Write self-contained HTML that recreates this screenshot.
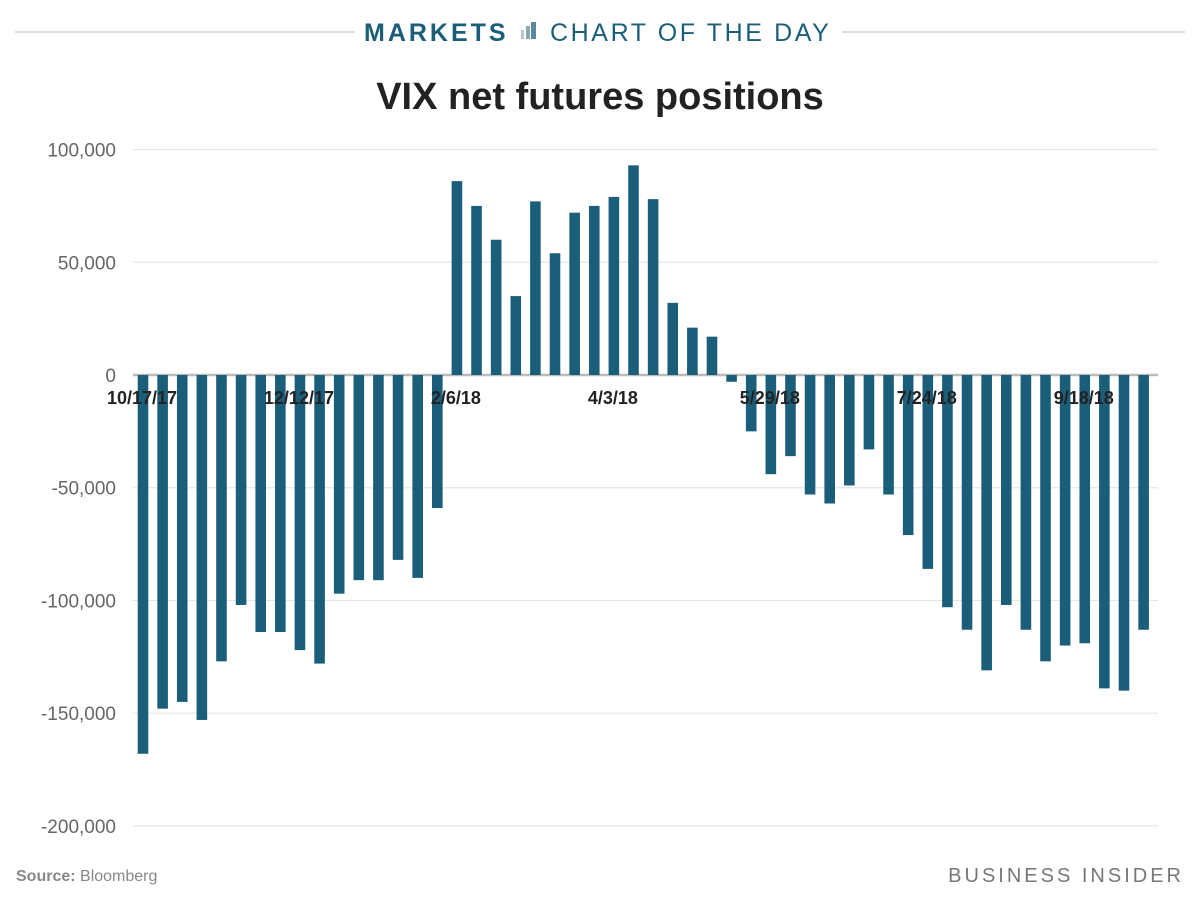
<!DOCTYPE html>
<html><head><meta charset="utf-8"><style>
body{margin:0;background:#fff;font-family:"Liberation Sans",sans-serif;}
svg text{font-family:"Liberation Sans",sans-serif;}
</style></head><body>
<svg width="1200" height="900" xmlns="http://www.w3.org/2000/svg">
<line x1="15" y1="32" x2="355" y2="32" stroke="#ddd" stroke-width="2"/>
<line x1="842" y1="32" x2="1185" y2="32" stroke="#ddd" stroke-width="2"/>
<text x="364" y="41" font-size="25" font-weight="bold" fill="#1b5e7a" letter-spacing="3">MARKETS</text>
<g><rect x="521" y="30" width="3" height="9" fill="#b7c7cf"/><rect x="526" y="26" width="4" height="13" fill="#8aa7b6"/><rect x="531" y="22" width="5" height="17" fill="#5b8aa0"/></g>
<text x="550" y="41" font-size="25" fill="#1b5e7a" letter-spacing="2.6">CHART OF THE DAY</text>
<text x="600" y="109" font-size="38" font-weight="bold" fill="#222" text-anchor="middle">VIX net futures positions</text>
<g id="grid"></g><g id="bars"></g><g id="xlabels"></g>
<text x="16" y="881" font-size="16" fill="#888"><tspan font-weight="bold">Source:</tspan> Bloomberg</text>
<text x="1184" y="882" font-size="20" fill="#777" text-anchor="end" letter-spacing="3">BUSINESS INSIDER</text>
</svg>
<script>
const values=[-168,-148,-145,-153,-127,-102,-114,-114,-122,-128,-97,-91,-91,-82,-90,-59,86,75,60,35,77,54,72,75,79,93,78,32,21,17,-3,-25,-44,-36,-53,-57,-49,-33,-53,-71,-86,-103,-113,-131,-102,-113,-127,-120,-119,-139,-140,-113];
const yTicks=[100,50,0,-50,-100,-150,-200];
const yTickLabels=["100,000","50,000","0","-50,000","-100,000","-150,000","-200,000"];
const xLabelIdx=[0,8,16,24,32,40,48];
const xLabels=["10/17/17","12/12/17","2/6/18","4/3/18","5/29/18","7/24/18","9/18/18"];
const NS="http://www.w3.org/2000/svg";
const y=v=>375-v*2.2545;
const pitch=19.62;
const x=i=>143+i*pitch;
const grid=document.getElementById('grid');
yTicks.forEach((t,k)=>{
  const l=document.createElementNS(NS,'line');
  l.setAttribute('x1',133);l.setAttribute('x2',1158);l.setAttribute('y1',y(t));l.setAttribute('y2',y(t));
  l.setAttribute('stroke',t===0?'#bbb':'#e6e6e6');l.setAttribute('stroke-width',t===0?2.5:1.2);
  
  
  grid.appendChild(l);
  const tx=document.createElementNS(NS,'text');
  tx.setAttribute('x',116);tx.setAttribute('y',y(t)+7);tx.setAttribute('text-anchor','end');
  tx.setAttribute('font-size','19');tx.setAttribute('fill','#666');tx.textContent=yTickLabels[k];
  
  
  grid.appendChild(tx);
});
const bars=document.getElementById('bars');
values.forEach((v,i)=>{
  const r=document.createElementNS(NS,'rect');
  const top=Math.min(y(v),y(0)), h=Math.abs(y(v)-y(0));
  r.setAttribute('x',x(i)-5.3);r.setAttribute('width',10.6);
  r.setAttribute('y',top);r.setAttribute('height',h);r.setAttribute('fill','#1b5e7a');
  
  
  bars.appendChild(r);
});
const xl=document.getElementById('xlabels');
xLabelIdx.forEach((idx,k)=>{
  const tx=document.createElementNS(NS,'text');
  tx.setAttribute('x',x(idx)-1);tx.setAttribute('y',404);tx.setAttribute('text-anchor','middle');
  tx.setAttribute('font-size','18');tx.setAttribute('font-weight','bold');tx.setAttribute('fill','#222');
  tx.textContent=xLabels[k];
  
  
  xl.appendChild(tx);
});
</script>
</body></html>
